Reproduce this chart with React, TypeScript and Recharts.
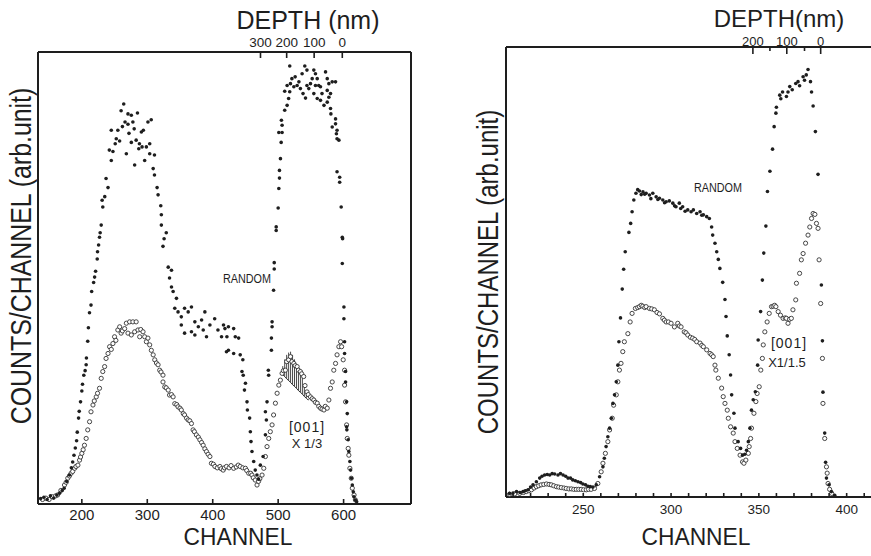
import React from 'react';
import { ComposedChart, ScatterChart, Scatter, XAxis, YAxis, Line, ReferenceLine, ErrorBar } from 'recharts';

// ---------- Left panel data (channel, counts in arb. units) ----------
const leftRandom: [number, number][] = [
  [137,1.2],[142,1.5],[147,1.0],[152,1.8],[157,1.3],[162,2.0],[166,2.4],[170,3.0],
  [173,3.5],[177,5.0],[181,6.4],[184,8.0],[186,9.3],[188,10.8],[190,12.4],[192,14.0],[193,15.9],[195,19],[196,20.5],[198,22.6],
  [200,25],[201,26.5],[203,28.5],[205,29.5],[206.6,30.8],[207,32.3],[209,36],[210,39],[211.7,42.3],[214,44],[215,47],[218,49],
  [219.5,50.2],[221,51.5],[223.5,54.2],[224,55.8],[225.6,57.3],[227,59],[228,60],[229.6,61.7],[232,65.7],[231,67.2],[235,68],
  [237,72],[240,70],[242,78.3],[245,76],[245,82.7],[247.5,78],[251,79.7],[252.6,80.8],[255,82.7],[257.7,80.3],[260,87],
  [262,83.5],[264,88.5],[266,84.5],[268,77.5],[270.5,86.3],[270.5,84],[272,82],[275.6,86],[275.6,80],[278,84.5],[280,83],
  [280.7,75],[283,80.5],[285,86.5],[287,78.6],[288,79.7],[291,82.3],[292,79],[294,82.7],[296,76],[298.6,79],[301,84.5],
  [303.7,79.7],[303.7,77.5],[306,85],[309,74.2],[311,77.2],[311,72.8],[315,70],[316.5,68.4],[320.6,66],[321.5,64],[321.5,61.7],
  [325.7,58.7],[324,57],[329,60],[332,52.4],[334,50],[337,51.7],[337,48],[339.5,47],[342,43.3],[344.6,45.5],[347,42.5],
  [352,41.4],[352,39.6],[357,43.3],[357,37.8],[362.5,42.5],[367.5,43.6],[367.5,38.1],[372.7,37.4],[372.7,40.3],[378,39.2],
  [383,40.7],[385.5,38.5],[388,42.5],[390.5,37],[395.7,39.6],[403,41],[408,38.5],[413.5,37],[416.5,39.6],[418.7,38.8],
  [421,33.7],[421.7,37],[424,39.2],[424,34],[432,38.8],[432,33.3],[434.5,37],[439.6,36.7],[442,33],[446,31.9],[444.7,29.3],
  [446.6,28.5],[450,26.7],[448.5,25.2],[452.4,22.6],[453,20.8],[456.4,19],[457.5,16],[458.5,13.8],[460,11.6],[462.6,9.4],
  [465,7.5],[467.6,6.4],[470,5.5],[472.8,8.6],[477,10.5],[480.5,15.3],[482,18.6],[480.5,20.4],[483,22.6],[485.5,28.5],
  [485,29.6],[489.7,34],[489.7,36.7],[490.7,39.2],[490.7,40.3],[493,47.3],[494,52],[494,53.4],[497,60.5],[497,61.3],
  [500,65.5],[501,69.8],[502,72.1],[502,73.8],[503.5,76.4],[504.6,80],[501,82.2],[506,82.2],[506,83.8],[505,84.9],
  [510,87.1],[513.7,88.2],[516,89.7],[510,91.3],[517.7,91.2],[513.7,92.6],[518.8,93],[521,94.1],[526,94.5],[524,92.3],
  [517.7,96.9],[529,92.6],[534,91.9],[531.7,93.4],[536.6,95.2],[540.7,96.9],[544,96],[538,90.8],[541.8,89.8],[544,92.6],
  [546.8,91.9],[549.4,93],[552,94.1],[554.5,96],[557,95.2],[559.7,94.1],[562,92.6],[557,92.6],[564.7,92.3],[554.5,90.8],
  [559.7,89.7],[564.7,89.3],[570,88.2],[567,90.8],[572.4,95.6],[575,94.1],[577.5,93],[582.6,93.4],[587.7,93.4],[575,91.5],
  [580,90.8],[577.5,90],[575,88.9],[580,87.5],[580.6,86.3],[587.7,85.2],[587.7,84.1],[582.6,83.4],[590,82.7],[589,81.9],
  [590,80.8],[592.8,80.5],[590,73.5],[594,72.3],[594,71.2],[596.3,65.7],[598,59],[598.5,58.7],[598,53.2],[600.5,43.6],
  [600.5,41],[601.5,35.9],[601.5,33.3],[603,29.3],[603,27],[604.6,22.6],[605.6,20],[604.6,17.1],[605,16.4],[607,14.2],
  [608,11.6],[609.6,9.4],[610.7,7.5],[612,5.7],[613.3,4.2],[614.8,2.7],[615.8,1.6],[618,0.9],[620,0.5]
];

const left001: [number, number][] = [
  [140,1.0],[145,1.3],[150,1.0],[155,1.6],[160,1.8],[163,2],[168,3],[173.5,4.2],[176,4.8],[178.5,5.7],[181,6.2],[183.6,6.8],
  [186,7.2],[189,7.9],[191,8.3],[194,8.6],[196.5,9.7],[198,10.4],[200,11.2],[202,12.0],[204,13],[206.6,14.5],[209,16.4],
  [211.8,18.2],[214,20.4],[217,21.9],[219,22.8],[222,23.7],[224,24.5],[227,25.6],[229.6,27.8],[232,29.3],[234.8,30.4],
  [237,32.2],[240,33.3],[242.4,34.8],[245,34.2],[247.5,35.5],[250,37],[252,36.2],[255,38.5],[257.8,39.2],[260,37.8],
  [262,38.3],[265.4,38.8],[268,40],[270.5,37.8],[273,40.3],[275.6,37.4],[278,40.3],[280.7,38.1],[283,40.3],[285.8,38.5],
  [288.4,37],[290,38.6],[293.5,38.1],[296,37],[298.6,35.9],[301,36.7],[303.7,35.2],[306.2,34],[309,33],[311.4,31.9],
  [314,31.2],[316.5,30.8],[319,29.6],[321,29.2],[324,28.5],[324,27],[326.7,25.9],[329,25.7],[332,25.2],[334,24.1],
  [337,24.2],[339.5,23.7],[342,22.2],[345,22.0],[347,21.5],[350,21.2],[352,20.8],[355,20.0],[357,19.7],[360,19.0],
  [362.5,18.6],[365,18.4],[367.5,17.8],[370,16.4],[372,16.0],[375,15.3],[378,14.8],[380.4,14.2],[383,13.6],[385.4,13],
  [388,12.2],[390.5,11.6],[393,11.0],[395.7,10.5],[398,9],[401,8.8],[403.4,8.3],[407,8.0],[411,8.3],[413,7.8],[416,7.5],
  [418,8.0],[421,8.3],[425,8.0],[428,8.5],[432,7.9],[436,8.2],[439,8.6],[442,8.3],[446,8.0],[450,7.9],[452,7.4],[455,6.8],
  [458,6.8],[460,6.4],[462,5.8],[465,5.3],[467.7,4.2],[470,5],[472,5.6],[475.4,6.4],[478,7.9],[480.5,10.5],[483,12.7],
  [485.6,14.5],[488,16],[490.7,17.5],[493,19.7],[495.8,22.3],[498.4,24.5],[501,26.3],[503.4,27.4],[506,28.9],[508,29.5],
  [511,29.6],[513,31.5],[516,31.9],[518.8,32.6],[521,31.5],[524,31.1],[526,30.6],[529,30.4],[531,29.6],[534,29.3],
  [536,28.8],[539,28.2],[541,26.2],[544,24.8],[546,24.2],[549.4,23.7],[552,23.3],[554.5,23],[557,22.5],[559.7,22.3],
  [562,21.6],[564.7,21.2],[567,21],[570,20.8],[572,21.6],[575,21.2],[577.5,23],[580,25.6],[582.6,27],[585,29.6],
  [587.7,31.1],[590,33],[592.8,34.8],[595.4,35.9],[597,34.8],[599.4,31.9],[601.5,29.6],[601.5,26.3],[603,22.6],
  [604.6,17.5],[605.6,14.5],[607,12.3],[608,10.8],[609.6,7.9],[611.7,5.7],[613.3,3.5],[616,2],[618,0.9]
];

// hatched surface-peak region of the [001] spectrum
const hatchChannels = [504, 507, 510, 513, 516, 519, 522, 525, 528, 531, 534, 537, 540, 543, 546];
const hatchLow =      [29.0, 28.6, 28.2, 27.7, 27.3, 26.9, 26.4, 26.0, 25.6, 25.1, 24.7, 24.3, 23.8, 23.4, 23.0];
const hatchHigh =     [29.0, 30.5, 32.0, 33.0, 33.5, 33.7, 33.0, 32.0, 31.0, 30.0, 29.0, 28.0, 26.5, 24.8, 23.2];

// ---------- Right panel data ----------
const rightRandom: [number, number][] = [
  [208,0.8],[210,0.9],[212,1.2],[214,1.0],[215.7,1.2],[217,1.4],[218.6,1.6],[220,2.2],[221.4,2.7],[223.3,3.4],[225.2,4.2],
  [226.5,4.6],[228,4.9],[229.5,5.0],[230.9,4.9],[232.3,5.2],[233.7,5.1],[235.6,4.9],[237,5.2],[238.5,4.9],[240,4.6],
  [241.3,4.2],[242.7,4.2],[244,3.8],[245.5,3.6],[247,3.4],[248.5,3.2],[249.8,2.9],[251.3,2.7],[252.7,2.4],[254,2.3],
  [255.5,2.2],[257.4,2.7],[259.3,4.5],[261.2,6.7],[262,8.6],[263,11.2],[264,13.4],[265,15.3],[266,17.5],[266.9,20.8],
  [267.8,22.7],[268.8,25.6],[269.7,29.3],[270.3,34.5],[271.2,39.8],[272.2,46.2],[273,50.6],[273.9,54.5],[276,58.8],
  [277,60.8],[277.8,63.4],[278.8,66],[280,67.5],[281,68.3],[282,68],[283,67.2],[284,67.8],[285,67.3],[285.8,67.5],
  [287.7,67.1],[288.5,66.3],[289.6,67.5],[291.5,66.7],[292.5,66.1],[293.4,66.4],[295.3,66],[296.3,65.4],[297.2,65.6],
  [299,65.8],[301,65.3],[302,64.7],[302.8,64.5],[304.7,65.3],[305.5,64.1],[306.6,64.5],[308,63.5],[309.5,63.8],
  [311.4,63.4],[312.7,63.8],[314.6,63],[316.5,63.4],[317.5,62.6],[318.4,62.7],[320.3,62.3],[321.8,61.9],[323.1,60],
  [323.7,58.2],[325,56.4],[326,54.5],[326.9,52.8],[327.8,50.8],[329.4,47.7],[330.7,43.9],[331.3,40.1],[332,35.8],
  [333.1,31.6],[333.9,27.1],[334.5,22.7],[335.8,18.6],[336.4,15.3],[338.2,12.3],[339.6,10.8],[340.7,9.3],[342,9.5],
  [343,10.4],[344,12.3],[344.9,15.3],[345.8,19.3],[346.8,21.6],[348,23.4],[349.3,29.3],[349.6,34.9],[351,41.2],[352,48.2],
  [352.8,54.2],[354,60.2],[354.9,67.9],[356.3,72.4],[357.8,77.3],[358.7,82.3],[359.7,85.3],[360,86.6],[361.9,89.3],
  [362.5,88.5],[363.5,90],[365.7,89],[366.6,90],[367.6,91.2],[369,90.5],[371,91.9],[372.3,92.3],[373.2,91.4],[375.2,93.4],
  [376,92.6],[377,93.8],[378,95],[379.4,92.3],[380,90],[380.9,86.9],[382.2,81.2],[383.7,71.7],[385.6,47.1],[386.2,34.7],
  [386.5,23.3],[387.5,14.2],[388,7.7],[388.5,4.2],[390,2.7],[391.3,1.2],[393.2,0.4]
];

const right001: [number, number][] = [
  [208,0.6],[211,0.7],[213.8,0.8],[216,1.0],[217.5,1.2],[219,1.4],[220.5,1.6],[222,2.0],[223.3,2.3],[224.6,2.5],[226,2.7],
  [227.5,2.8],[229,2.9],[230.5,2.8],[231.8,2.7],[233.2,2.5],[234.7,2.3],[236,2.2],[237.5,2.1],[239,2.0],[240.3,1.9],
  [241.8,1.8],[243.2,1.8],[244.6,1.7],[246,1.7],[247.4,1.7],[248.8,1.7],[250.2,1.6],[251.7,1.6],[253,1.7],[254.5,1.7],
  [256.4,1.9],[258.3,3],[260.2,5.6],[261.2,7.5],[262.6,9.7],[264,12.3],[265,14.9],[266.5,17.5],[267.3,20.4],[268.8,22.7],
  [269.7,25.6],[270.6,28.2],[271.5,29.7],[272.5,32.3],[273.4,34.5],[275.4,36.3],[276.7,38.9],[277.8,40.8],[279.7,41.9],
  [281,42.1],[282,42.3],[283,42.6],[283.9,42.4],[285,42.1],[285.8,42.3],[287.7,41.9],[289,41.8],[290.5,41.6],[292,41.0],
  [293.4,40.7],[295.3,39.7],[296.2,39.3],[297.2,38.9],[298.5,38.9],[300,38.6],[301.9,37.8],[303.8,38.6],[304.7,38.0],
  [305.7,37.8],[307.5,36.7],[308.5,36.5],[309.5,36],[311,35.5],[312.3,35.3],[313.5,35.0],[314.6,34.5],[316.5,34.2],
  [317.5,33.7],[318.4,33.4],[320.3,32.7],[322.2,31.9],[323.1,31.6],[324,31.2],[325,29.3],[325.5,28.2],[326.9,26.4],
  [328.8,24.2],[329.7,22.3],[330.7,20.8],[332,19.3],[332.6,17.5],[333.9,15.6],[335.4,14.2],[336.4,12.3],[337.7,10.8],
  [339.3,9.3],[340.7,7.8],[341.5,7.5],[342.6,8.2],[344,9.7],[344.5,11.2],[345.3,13],[345.8,15.3],[347.2,18.6],[348.3,21.2],
  [349,23],[350.2,24.5],[351.1,28.2],[352,30.8],[352.5,33.8],[353.4,36.7],[354.7,38.9],[355.9,40.8],[357.2,42.3],
  [358.1,42.4],[359,42.6],[359.7,42.3],[361,41.2],[362.3,40.4],[363.8,39.7],[365,39.8],[365.7,39.7],[366.6,38.6],
  [367.5,39.5],[368.5,39.7],[369.4,41.6],[371,43.8],[371.4,47.5],[373.2,49.7],[374.2,52.7],[375.2,54.1],[376.6,56.4],
  [378,58.2],[379,60],[380,61.9],[380.9,63],[381.9,62.8],[382.8,60.8],[383.7,59.7],[384.3,52.7],[385.2,43],[386.2,30.8],
  [386.5,20.8],[387.5,13],[388.5,6.7],[388.9,5.3],[389.4,3],[390.3,1.7],[391.5,0.8]
];

// ---------- Axis ticks ----------
const leftChannelTicks = [200, 300, 400, 500, 600];
const leftDepthChannels = [473, 513, 555, 598];
const leftDepthLabels = ['300', '200', '100', '0'];
const rightChannelTicks = [210, 220, 230, 240, 250, 260, 270, 280, 290, 300, 310, 320, 330, 340, 350, 360, 370, 380, 390, 400, 410];
const rightChannelLabels = [250, 300, 350, 400];
const rightDepthChannels = [346.6, 356.3, 365.9, 376, 385.2];
const rightDepthLabels = ['200', '', '100', '', '0'];

const LEFT_DOMAIN: [number, number] = [133, 703];
const RIGHT_DOMAIN: [number, number] = [206, 415];

const INK = '#1e1e1e';
const FONT = "'Liberation Sans', Arial, sans-serif";

const toPts = (arr: [number, number][]) => arr.map(([x, y]) => ({ x, y }));
const hatchData = hatchChannels.map((x, i) => ({ x, low: hatchLow[i] }));
const hatchTop = hatchChannels.map((x, i) => ({ x, y: hatchHigh[i], err: [hatchHigh[i] - hatchLow[i], 0] }));

const Filled = (p: any) => <circle cx={p.cx} cy={p.cy} r={1.8} fill={INK} />;
const Open = (p: any) => <circle cx={p.cx} cy={p.cy} r={2.1} fill="#fff" stroke="#333" strokeWidth={0.9} />;
const NoMark = () => <g />;

function makeTick(side: 'top' | 'bottom', len: (v: number) => number, label: (v: number) => string, fontSize: number, dy: number) {
  return (props: any) => {
    const { x, y, payload } = props;
    const v = payload.value;
    const dir = side === 'bottom' ? -1 : 1;
    const l = len(v);
    const text = label(v);
    return (
      <g>
        {l > 0 && <line x1={x} x2={x} y1={y} y2={y + dir * l} stroke={INK} strokeWidth={1.6} />}
        {text !== '' && (
          <text x={x} y={y + dy} textAnchor="middle" fontSize={fontSize} fontFamily={FONT} fill={INK}>
            {text}
          </text>
        )}
      </g>
    );
  };
}

const leftBottomTick = makeTick('bottom', () => 5, (v) => String(v), 15, 16);
const leftTopTick = makeTick('top', () => 6, (v) => leftDepthLabels[leftDepthChannels.indexOf(v)] ?? '', 13.5, -5);
const rightBottomTick = makeTick('bottom', () => 4, (v) => (rightChannelLabels.includes(v) ? String(v) : ''), 13.5, 17);
const rightTopTick = makeTick('top', (v) => (rightDepthLabels[rightDepthChannels.indexOf(v)] ? 7 : 4), (v) => rightDepthLabels[rightDepthChannels.indexOf(v)] ?? '', 13, -1);

const axisLineStyle = { stroke: INK, strokeWidth: 2 };

const Txt = ({ x, y, size, children, rotate, sx = 1, ls = 0 }: any) => (
  <div
    style={{
      position: 'absolute', left: x, top: y, fontSize: size, fontFamily: FONT, color: INK, lineHeight: 0.8,
      whiteSpace: 'nowrap', letterSpacing: ls,
      transform: `translate(-50%, -50%)${rotate ? ` rotate(${rotate}deg)` : ''} scaleX(${sx})`,
    }}
  >
    {children}
  </div>
);

export default function App() {
  return (
    <div style={{ position: 'fixed', left: 0, top: 0, width: 871, height: 556, overflow: 'hidden', background: '#fff' }}>
      {/* Left panel */}
      <div style={{ position: 'absolute', left: 0, top: 0 }}>
        <ComposedChart width={430} height={556} data={hatchData} margin={{ top: 51, right: 19, bottom: 51, left: 37 }}>
          <XAxis xAxisId="ch" type="number" dataKey="x" domain={LEFT_DOMAIN} allowDataOverflow ticks={leftChannelTicks} interval={0}
            height={1} tickSize={0} tickMargin={0} tickLine={false} axisLine={axisLineStyle} tick={leftBottomTick} />
          <XAxis xAxisId="depth" orientation="top" type="number" dataKey="x" domain={LEFT_DOMAIN} allowDataOverflow ticks={leftDepthChannels} interval={0}
            height={1} tickSize={0} tickMargin={0} tickLine={false} axisLine={axisLineStyle} tick={leftTopTick} />
          <YAxis yAxisId="v" type="number" dataKey="y" domain={[0, 100]} allowDataOverflow width={1} tick={false} tickLine={false} axisLine={axisLineStyle} />
          <ReferenceLine xAxisId="ch" yAxisId="v" x={LEFT_DOMAIN[1]} stroke={INK} strokeWidth={2} />
          <Line xAxisId="ch" yAxisId="v" dataKey="low" stroke="#333" strokeWidth={1} dot={false} isAnimationActive={false} />
          <Scatter xAxisId="ch" yAxisId="v" data={hatchTop} shape={NoMark} isAnimationActive={false}>
            <ErrorBar dataKey="err" direction="y" width={0} stroke="#333" strokeWidth={0.9} isAnimationActive={false} />
          </Scatter>
          <Scatter xAxisId="ch" yAxisId="v" data={toPts(left001)} shape={Open} isAnimationActive={false} />
          <Scatter xAxisId="ch" yAxisId="v" data={toPts(leftRandom)} shape={Filled} isAnimationActive={false} />
        </ComposedChart>
      </div>

      {/* Right panel */}
      <div style={{ position: 'absolute', left: 440, top: 0 }}>
        <ScatterChart width={433} height={556} margin={{ top: 46, right: 0, bottom: 58, left: 65 }}>
          <XAxis xAxisId="ch" type="number" dataKey="x" domain={RIGHT_DOMAIN} allowDataOverflow ticks={rightChannelTicks} interval={0}
            height={1} tickSize={0} tickMargin={0} tickLine={false} axisLine={axisLineStyle} tick={rightBottomTick} />
          <XAxis xAxisId="depth" orientation="top" type="number" dataKey="x" domain={RIGHT_DOMAIN} allowDataOverflow ticks={rightDepthChannels} interval={0}
            height={1} tickSize={0} tickMargin={0} tickLine={false} axisLine={axisLineStyle} tick={rightTopTick} />
          <YAxis yAxisId="v" type="number" dataKey="y" domain={[0, 100]} allowDataOverflow width={1} tick={false} tickLine={false} axisLine={axisLineStyle} />
          <Scatter xAxisId="ch" yAxisId="v" data={toPts(right001)} shape={Open} isAnimationActive={false} />
          <Scatter xAxisId="ch" yAxisId="v" data={toPts(rightRandom)} shape={Filled} isAnimationActive={false} />
        </ScatterChart>
      </div>

      {/* Axis titles and annotations */}
      <Txt x={308} y={20} size={25}>DEPTH (nm)</Txt>
      <Txt x={779} y={19} size={24}>DEPTH(nm)</Txt>
      <Txt x={238} y={537} size={24} sx={0.95}>CHANNEL</Txt>
      <Txt x={696} y={537} size={24} sx={0.95}>CHANNEL</Txt>
      <Txt x={21} y={256} size={30} rotate={-90} sx={0.83}>COUNTS/CHANNEL (arb.unit)</Txt>
      <Txt x={488} y={272} size={30} rotate={-90} sx={0.8}>COUNTS/CHANNEL (arb.unit)</Txt>
      <Txt x={247} y={280} size={12} sx={0.9}>RANDOM</Txt>
      <Txt x={307} y={428} size={14} ls={1}>[001]</Txt>
      <Txt x={307} y={444} size={13}>X 1/3</Txt>
      <Txt x={718} y={189} size={12} sx={0.9}>RANDOM</Txt>
      <Txt x={789} y={344} size={14} ls={1}>[001]</Txt>
      <Txt x={787} y={363} size={13}>X1/1.5</Txt>
    </div>
  );
}
